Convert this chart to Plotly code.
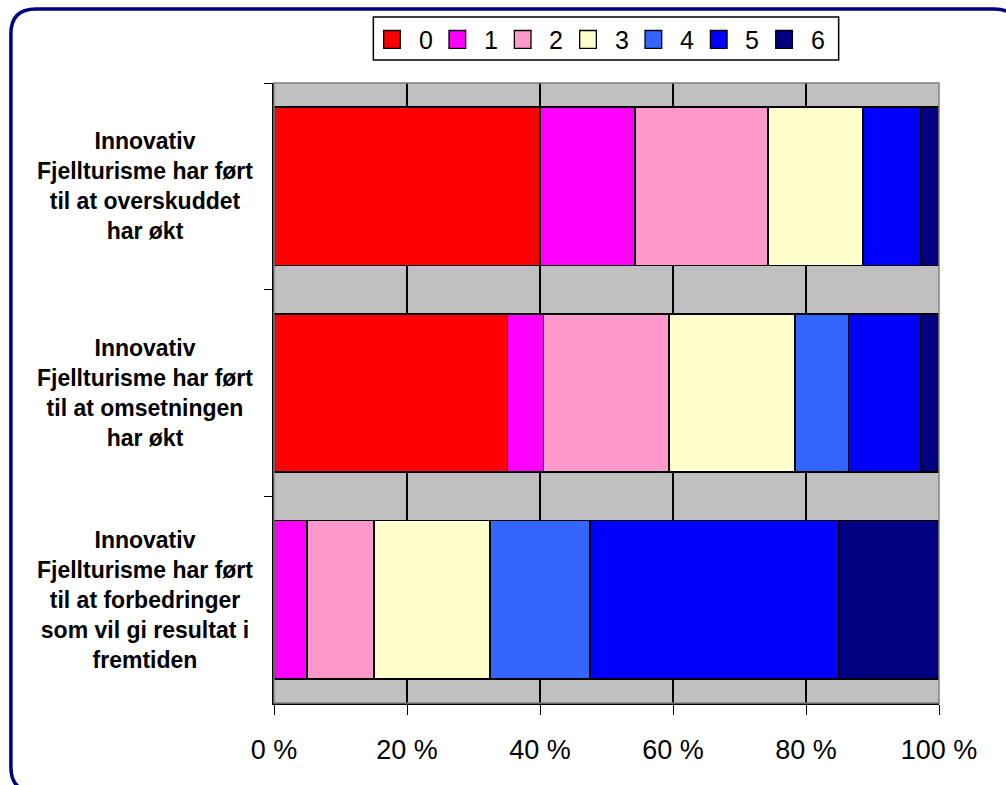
import plotly.graph_objects as go

# Statements (one horizontal 100 % bar each), top to bottom
categories = [
    "Innovativ<br>Fjellturisme har ført<br>til at overskuddet<br>har økt",
    "Innovativ<br>Fjellturisme har ført<br>til at omsetningen<br>har økt",
    "Innovativ<br>Fjellturisme har ført<br>til at forbedringer<br>som vil gi resultat i<br>fremtiden",
]

# Response scale 0..6 and share of answers (%) per statement
series_names = ["0", "1", "2", "3", "4", "5", "6"]
share_0 = [40.0, 35.1, 0.0]
share_1 = [14.3, 5.4, 5.0]
share_2 = [20.0, 18.9, 10.0]
share_3 = [14.3, 18.9, 17.5]
share_4 = [0.0, 8.1, 15.0]
share_5 = [8.6, 10.8, 37.5]
share_6 = [2.8, 2.8, 15.0]
series_values = [share_0, share_1, share_2, share_3, share_4, share_5, share_6]

colors = ["#FF0000", "#FF00FF", "#FF99CC", "#FFFFCC", "#3366FF", "#0000FF", "#000080"]

x_tick_vals = [0, 20, 40, 60, 80, 100]
x_tick_text = ["0 %", "20 %", "40 %", "60 %", "80 %", "100 %"]

FONT = "Liberation Sans, Arial, sans-serif"
W, H = 1006, 785
L, R, T, B = 273.5, 66.5, 83, 82
PW, PH = W - L - R, H - T - B


def px(xp):
    return (xp - L) / PW


def py(yp):
    return (H - B - yp) / PH


fig = go.Figure()
for name, vals, col in zip(series_names, series_values, colors):
    fig.add_trace(go.Bar(
        y=categories, x=vals, name=name, orientation="h",
        marker=dict(color=col, line=dict(color="#000000", width=1.6)),
        showlegend=False, hoverinfo="x+name",
    ))

shapes = []
annotations = []

# plot-area frame (grey top/right edge)
shapes.append(dict(type="rect", xref="paper", yref="paper", x0=0, x1=1, y0=0, y1=1,
                   line=dict(color="#808080", width=1.5), layer="above"))

# rounded outer frame
l, t, r, b, rad = 10, 9, 1020, 792, 25
path = (f"M {px(l + rad)},{py(t)} L {px(r - rad)},{py(t)} "
        f"Q {px(r)},{py(t)} {px(r)},{py(t + rad)} L {px(r)},{py(b - rad)} "
        f"Q {px(r)},{py(b)} {px(r - rad)},{py(b)} L {px(l + rad)},{py(b)} "
        f"Q {px(l)},{py(b)} {px(l)},{py(b - rad)} L {px(l)},{py(t + rad)} "
        f"Q {px(l)},{py(t)} {px(l + rad)},{py(t)} Z")
shapes.append(dict(type="path", xref="paper", yref="paper", path=path,
                   line=dict(color="#000080", width=3.5)))

# category labels, centred in the left margin
for cat in categories:
    annotations.append(dict(
        x=px(144), xref="paper", y=cat, yref="y", text=f"<b>{cat}</b>",
        showarrow=False, align="center", xanchor="center", yanchor="middle",
        font=dict(family=FONT, size=23, color="#000000"),
    ))

# legend box with swatches
shapes.append(dict(type="rect", xref="paper", yref="paper",
                   x0=px(373), x1=px(839), y0=py(60), y1=py(17),
                   line=dict(color="#000000", width=1.5), fillcolor="#FFFFFF"))
for i, (name, col) in enumerate(zip(series_names, colors)):
    sx = 383.3 + 65.45 * i
    shapes.append(dict(type="rect", xref="paper", yref="paper",
                       x0=px(sx), x1=px(sx + 16.7), y0=py(48.3), y1=py(30.5),
                       line=dict(color="#000000", width=1.3), fillcolor=col))
    annotations.append(dict(
        x=px(sx + 33), xref="paper", y=py(39.5), yref="paper", text=name,
        showarrow=False, xanchor="left", yanchor="middle",
        font=dict(family=FONT, size=25, color="#000000"),
    ))

fig.update_layout(
    width=W, height=H,
    margin=dict(l=L, r=R, t=T, b=B, pad=0),
    barmode="stack", bargap=0.233,
    paper_bgcolor="#FFFFFF", plot_bgcolor="#C0C0C0",
    font=dict(family=FONT, color="#000000"),
    shapes=shapes, annotations=annotations,
    showlegend=False,
)
fig.update_xaxes(
    range=[0, 100], tickvals=x_tick_vals, ticktext=x_tick_text,
    showgrid=True, gridcolor="#000000", gridwidth=1.5,
    showline=True, linecolor="#000000", linewidth=1.5,
    ticks="outside", ticklen=10, tickcolor="#000000", tickwidth=1,
    tickfont=dict(family=FONT, size=27, color="#000000"),
    ticklabelstandoff=12, zeroline=False, fixedrange=True,
)
fig.update_yaxes(
    autorange="reversed", type="category", tickson="boundaries",
    showticklabels=False, showgrid=False,
    showline=True, linecolor="#000000", linewidth=1.5,
    ticks="outside", ticklen=8, tickcolor="#000000", tickwidth=1,
    zeroline=False, fixedrange=True,
)

fig.write_html("out.html", config={"displayModeBar": False})
